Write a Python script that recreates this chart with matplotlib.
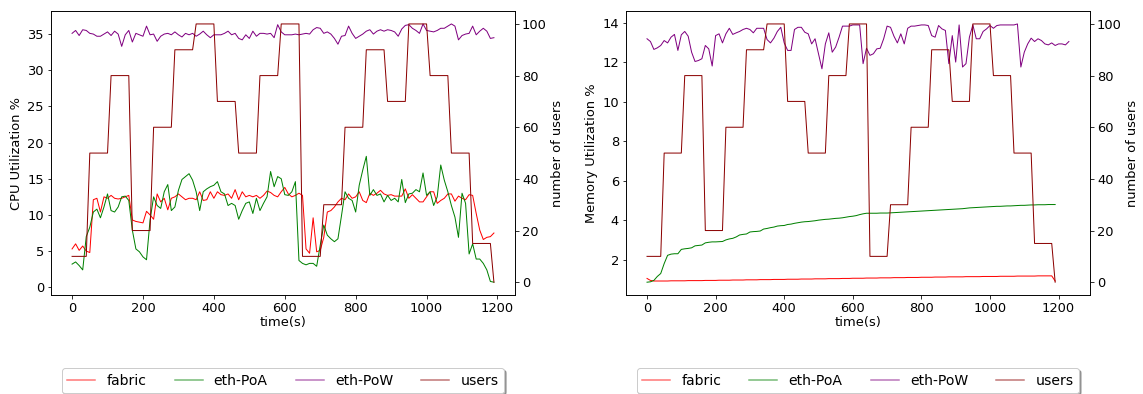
import numpy as np
import matplotlib
matplotlib.use("Agg")
import matplotlib.pyplot as plt

plt.rcParams["font.size"] = 13

# time axis (s), one sample every 10 s
time = np.arange(0, 1200, 10)
time_pow_mem = np.arange(0, 1240, 10)

# number of concurrent users (same schedule for both runs)
users = [10, 10, 10, 10, 10,
         50, 50, 50, 50, 50, 50,
         80, 80, 80, 80, 80, 80,
         20, 20, 20, 20, 20, 20,
         60, 60, 60, 60, 60, 60,
         90, 90, 90, 90, 90, 90,
         100, 100, 100, 100, 100, 100,
         70, 70, 70, 70, 70, 70,
         50, 50, 50, 50, 50, 50,
         80, 80, 80, 80, 80, 80,
         100, 100, 100, 100, 100, 100,
         10, 10, 10, 10, 10, 10,
         30, 30, 30, 30, 30, 30,
         60, 60, 60, 60, 60, 60,
         90, 90, 90, 90, 90, 90,
         70, 70, 70, 70, 70, 70,
         100, 100, 100, 100, 100, 100,
         80, 80, 80, 80, 80, 80,
         50, 50, 50, 50, 50, 50,
         15, 15, 15, 15, 15, 15,
         0]

# CPU utilization %
cpu_fabric = [5.3, 6.0, 5.1, 5.7, 5.0, 4.8, 12.1, 12.3, 10.4, 12.5,
              12.3, 12.7, 12.3, 12.2, 12.3, 12.5, 12.7, 9.3, 9.1, 9.0,
              8.9, 10.5, 10.0, 9.4, 12.9, 11.8, 12.3, 10.7, 12.3, 12.5,
              12.9, 12.5, 12.1, 12.3, 12.3, 12.1, 13.2, 12.0, 12.1, 13.2,
              12.3, 13.2, 12.8, 12.7, 12.9, 12.3, 13.5, 12.1, 13.2, 12.5,
              12.7, 12.5, 12.7, 12.3, 12.7, 13.3, 13.1, 12.7, 12.5, 13.2,
              13.8, 12.9, 12.5, 12.7, 13.0, 12.7, 5.3, 4.7, 9.6, 4.9,
              5.1, 6.9, 10.4, 10.6, 11.1, 11.8, 12.3, 12.1, 12.9, 12.3,
              12.5, 13.2, 12.0, 11.7, 13.0, 12.7, 13.0, 13.4, 12.9, 12.7,
              12.8, 12.6, 12.6, 12.6, 13.6, 12.3, 12.8, 12.3, 11.8, 11.8,
              12.5, 13.2, 13.2, 11.6, 12.0, 12.3, 12.9, 12.9, 11.9, 12.6,
              12.3, 12.1, 12.8, 12.7, 10.2, 7.9, 6.6, 6.9, 7.0, 7.5]
cpu_poa = [3.2, 3.5, 3.0, 2.4, 7.0, 8.3, 10.4, 10.8, 9.6, 11.1,
           12.9, 10.6, 10.4, 11.1, 12.5, 12.6, 12.0, 7.9, 5.3, 4.9,
           4.2, 3.8, 9.3, 12.5, 11.3, 10.9, 13.2, 14.2, 10.6, 11.1,
           13.4, 14.9, 15.3, 15.7, 14.8, 13.2, 10.6, 13.2, 13.6, 13.9,
           14.1, 14.6, 13.2, 12.9, 11.3, 11.6, 11.3, 9.4, 10.6, 11.6,
           11.8, 10.2, 12.3, 10.6, 11.6, 12.5, 16.0, 13.9, 15.3, 15.0,
           12.8, 12.7, 13.2, 14.6, 3.7, 3.3, 3.1, 3.3, 3.3, 2.9,
           5.8, 8.6, 7.2, 6.7, 6.3, 6.7, 9.9, 13.2, 12.3, 12.0,
           10.4, 14.1, 16.2, 18.1, 12.7, 13.5, 12.7, 12.9, 11.8, 12.7,
           12.0, 12.3, 11.8, 14.9, 11.7, 12.9, 13.0, 13.5, 13.2, 15.8,
           12.7, 13.2, 11.3, 12.5, 16.9, 14.8, 13.2, 11.3, 9.7, 6.9,
           13.0, 11.6, 4.6, 6.0, 3.9, 3.9, 3.3, 2.4, 0.8, 0.7]
cpu_pow = [35.1, 35.5, 34.8, 35.6, 35.5, 35.1, 35.0, 34.7, 34.7, 35.0,
           35.3, 34.8, 35.4, 35.0, 33.3, 34.9, 35.5, 33.9, 35.1, 34.9,
           34.7, 36.1, 34.9, 35.0, 34.0, 34.7, 35.0, 35.1, 34.9, 35.3,
           34.9, 34.6, 35.1, 34.9, 35.1, 34.7, 35.0, 35.4, 34.9, 34.5,
           34.9, 34.9, 34.9, 35.1, 35.4, 34.9, 35.1, 34.4, 34.2, 34.9,
           34.4, 35.4, 34.7, 35.1, 35.1, 35.0, 35.1, 34.5, 36.3, 35.3,
           34.9, 34.9, 34.9, 35.0, 34.9, 35.0, 35.1, 35.0, 35.6, 35.9,
           35.8, 35.1, 35.3, 35.0, 34.4, 33.6, 34.7, 34.8, 36.1, 35.1,
           34.4, 34.7, 35.0, 35.4, 35.6, 35.0, 35.4, 35.6, 35.4, 35.6,
           35.5, 35.3, 34.7, 35.7, 36.2, 36.3, 35.8, 35.5, 35.1, 36.4,
           35.5, 35.4, 35.3, 35.5, 35.8, 35.8, 36.1, 36.4, 36.1, 34.2,
           34.8, 35.0, 35.1, 36.1, 34.9, 35.4, 35.8, 35.4, 34.4, 34.5]

# memory utilization %
mem_fabric = [1.05, 0.95, 0.92, 0.92, 0.92, 0.92, 0.92, 0.93, 0.93, 0.93,
              0.93, 0.93, 0.94, 0.94, 0.94, 0.94, 0.94, 0.95, 0.95, 0.95,
              0.95, 0.96, 0.96, 0.96, 0.96, 0.97, 0.97, 0.97, 0.97, 0.98,
              0.98, 0.98, 0.98, 0.99, 0.99, 0.99, 0.99, 1.00, 1.00, 1.00,
              1.00, 1.01, 1.01, 1.01, 1.01, 1.02, 1.02, 1.02, 1.02, 1.03,
              1.03, 1.03, 1.03, 1.04, 1.04, 1.04, 1.04, 1.05, 1.05, 1.05,
              1.06, 1.06, 1.06, 1.06, 1.07, 1.07, 1.07, 1.07, 1.08, 1.08,
              1.08, 1.08, 1.09, 1.09, 1.09, 1.09, 1.10, 1.10, 1.10, 1.10,
              1.11, 1.11, 1.11, 1.11, 1.12, 1.12, 1.12, 1.12, 1.13, 1.13,
              1.13, 1.13, 1.13, 1.14, 1.14, 1.14, 1.14, 1.14, 1.15, 1.15,
              1.15, 1.15, 1.15, 1.16, 1.16, 1.16, 1.16, 1.16, 1.17, 1.17,
              1.17, 1.17, 1.17, 1.17, 1.18, 1.18, 1.18, 1.18, 1.18, 0.92]
mem_poa = [0.86, 0.88, 0.95, 1.15, 1.30, 1.80, 2.22, 2.28, 2.30, 2.30,
           2.52, 2.55, 2.57, 2.60, 2.70, 2.72, 2.74, 2.85, 2.88, 2.90,
           2.90, 2.91, 2.92, 3.00, 3.05, 3.08, 3.15, 3.25, 3.28, 3.30,
           3.40, 3.42, 3.43, 3.45, 3.55, 3.58, 3.62, 3.65, 3.70, 3.72,
           3.73, 3.78, 3.80, 3.84, 3.87, 3.90, 3.92, 3.93, 3.95, 3.97,
           4.00, 4.02, 4.04, 4.05, 4.07, 4.09, 4.10, 4.12, 4.15, 4.18,
           4.20, 4.23, 4.28, 4.32, 4.35, 4.35, 4.35, 4.35, 4.36, 4.36,
           4.36, 4.37, 4.38, 4.39, 4.40, 4.41, 4.42, 4.43, 4.44, 4.45,
           4.46, 4.47, 4.48, 4.49, 4.50, 4.51, 4.52, 4.53, 4.54, 4.55,
           4.56, 4.57, 4.58, 4.60, 4.62, 4.63, 4.64, 4.65, 4.66, 4.67,
           4.68, 4.69, 4.70, 4.70, 4.71, 4.72, 4.72, 4.73, 4.74, 4.75,
           4.75, 4.76, 4.77, 4.77, 4.78, 4.78, 4.78, 4.79, 4.79, 4.79]
mem_pow = [13.18, 13.04, 12.64, 12.72, 12.84, 13.09, 12.97, 13.26, 13.40, 12.59,
           13.38, 13.55, 13.31, 12.50, 12.03, 12.08, 12.17, 12.84, 12.67, 11.80,
           13.34, 13.43, 12.97, 13.43, 13.71, 13.40, 13.48, 13.55, 13.65, 13.71,
           13.65, 13.48, 13.71, 13.71, 13.71, 13.14, 12.97, 13.21, 13.55, 13.76,
           12.97, 12.59, 12.59, 13.65, 13.76, 13.76, 13.51, 13.43, 12.92, 13.18,
           12.42, 11.66, 12.92, 13.48, 12.50, 12.76, 13.26, 13.82, 13.82, 13.82,
           13.88, 13.88, 13.88, 11.92, 12.70, 12.34, 12.42, 12.67, 12.70, 13.18,
           13.82, 13.76, 13.31, 12.97, 13.43, 12.92, 13.71, 13.82, 13.82, 13.85,
           13.88, 13.88, 13.85, 13.34, 13.26, 13.85, 13.68, 13.60, 11.92, 13.34,
           12.00, 13.88, 11.75, 11.92, 13.26, 13.88, 13.18, 13.18, 13.55, 13.68,
           13.85, 13.71, 13.85, 13.88, 13.88, 13.88, 13.88, 13.88, 13.93, 11.75,
           12.50, 12.92, 13.21, 13.04, 13.18, 13.09, 12.92, 12.87, 12.97, 12.84,
           12.92, 12.92, 12.87, 13.04]

fig, axes = plt.subplots(1, 2, figsize=(1143 / 72, 394 / 72), dpi=72)
fig.subplots_adjust(left=0.0446, right=0.9536, bottom=0.251, top=0.972, wspace=0.239)

panels = [
    (axes[0], cpu_fabric, cpu_poa, cpu_pow, time, "CPU Utilization %"),
    (axes[1], mem_fabric, mem_poa, mem_pow, time_pow_mem, "Memory Utilization %"),
]

for ax, fab, poa, pow_, t_pow, ylabel in panels:
    l1, = ax.plot(time, fab, color="red", lw=1.0, label="fabric")
    l2, = ax.plot(time, poa, color="green", lw=1.0, label="eth-PoA")
    l3, = ax.plot(t_pow, pow_, color="purple", lw=1.0, label="eth-PoW")
    ax.set_ylabel(ylabel)
    ax.set_xlabel("time(s)", labelpad=1)
    ax.set_xticks([0, 200, 400, 600, 800, 1000, 1200])

    ax2 = ax.twinx()
    l4, = ax2.plot(time, users, color="darkred", lw=1.0, label="users")
    ax2.set_ylabel("number of users")

    leg = ax.legend(handles=[l1, l2, l3, l4], loc="upper center",
                    bbox_to_anchor=(0.5, -0.257), borderaxespad=0,
                    ncol=4, shadow=True, fontsize=14)
    for h in leg.legend_handles:
        h.set_alpha(0.55)
        h.set_linewidth(1.5)

fig.savefig("out.png", dpi=72)
